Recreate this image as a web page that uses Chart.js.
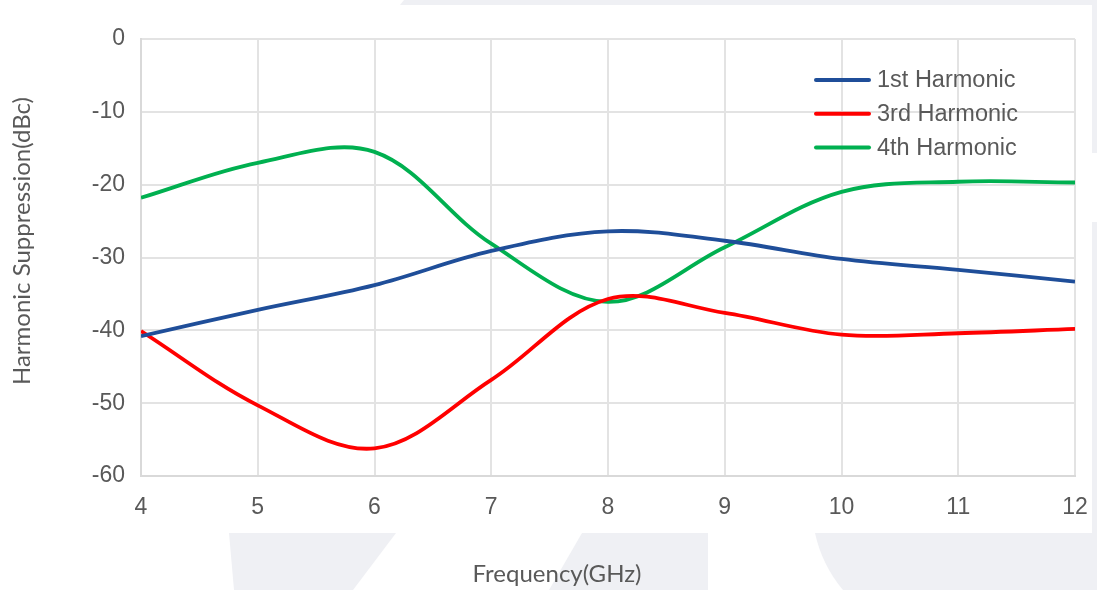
<!DOCTYPE html>
<html>
<head>
<meta charset="utf-8">
<script src="https://cdn.jsdelivr.net/npm/chart.js@4.4.1/dist/chart.umd.min.js"></script>
<style>
  html, body { margin: 0; padding: 0; background: #ffffff; }
  #wrap { width: 1097px; height: 590px; }
</style>
</head>
<body>
<div id="wrap"><canvas id="c" width="1097" height="590"></canvas></div>
<script>
// Frequency points (GHz)
const frequencies = [4, 5, 6, 7, 8, 9, 10, 11, 12];

// Harmonic suppression (dBc) per frequency
const firstHarmonic  = [-40.8, -37.2, -33.8, -29.1, -26.4, -27.7, -30.2, -31.7, -33.3];
const thirdHarmonic  = [-40.1, -50.3, -56.2, -46.8, -35.7, -37.6, -40.6, -40.4, -39.8];
const fourthHarmonic = [-21.8, -17.0, -15.5, -28.1, -36.1, -28.6, -21.0, -19.6, -19.7];

const seriesNames = ['1st Harmonic', '3rd Harmonic', '4th Harmonic'];
const seriesColors = ['#1f4e99', '#ff0000', '#00b050'];

const xTitle = 'Frequency(GHz)';
const yTitle = 'Harmonic Suppression(dBc)';

const textColor = '#595959';
const gridColor = '#e3e3e3';

function toPoints(values) {
  return frequencies.map((f, i) => ({ x: f, y: values[i] }));
}

// Soft grey backdrop shapes behind the chart card
const backdrop = {
  id: 'backdrop',
  beforeDraw(chart) {
    const ctx = chart.ctx;
    ctx.save();
    ctx.fillStyle = '#ffffff';
    ctx.fillRect(0, 0, chart.width, chart.height);
    ctx.fillStyle = '#eff0f4';
    // top strip
    ctx.beginPath();
    ctx.moveTo(404, 0); ctx.lineTo(1097, 0); ctx.lineTo(1097, 5); ctx.lineTo(400, 5);
    ctx.closePath(); ctx.fill();
    // right strip
    ctx.fillRect(1092, 0, 5, 153);
    ctx.fillRect(1092, 222, 5, 368);
    // lower shapes
    ctx.beginPath();
    ctx.moveTo(229, 533); ctx.lineTo(396, 533); ctx.lineTo(353, 590); ctx.lineTo(234, 590);
    ctx.closePath(); ctx.fill();
    ctx.beginPath();
    ctx.moveTo(582, 533); ctx.lineTo(708, 533); ctx.lineTo(708, 590); ctx.lineTo(549, 590);
    ctx.closePath(); ctx.fill();
    ctx.beginPath();
    ctx.moveTo(815, 533); ctx.lineTo(1097, 533); ctx.lineTo(1097, 590); ctx.lineTo(843, 590);
    ctx.quadraticCurveTo(822, 565, 815, 533);
    ctx.closePath(); ctx.fill();
    ctx.restore();
  }
};

// Legend inside the plot and the two axis titles
const decorations = {
  id: 'decorations',
  afterDraw(chart) {
    const ctx = chart.ctx;
    ctx.save();
    // legend
    ctx.font = '23.5px "Liberation Sans", Arial, sans-serif';
    ctx.textBaseline = 'middle';
    ctx.textAlign = 'left';
    chart.data.datasets.forEach((ds, i) => {
      const y = 80 + i * 33.7;
      ctx.strokeStyle = ds.borderColor;
      ctx.lineWidth = 4;
      ctx.lineCap = 'round';
      ctx.beginPath();
      ctx.moveTo(816, y); ctx.lineTo(869, y);
      ctx.stroke();
      ctx.fillStyle = textColor;
      ctx.fillText(ds.label, 877, y + 1);
    });
    // axis titles
    ctx.fillStyle = textColor;
    ctx.font = '24px Lato, "Open Sans", sans-serif';
    ctx.textAlign = 'center';
    ctx.textBaseline = 'middle';
    ctx.fillText(xTitle, 557, 574);
    ctx.translate(22, 241);
    ctx.rotate(-Math.PI / 2);
    ctx.fillText(yTitle, 0, 0);
    ctx.restore();
  }
};

new Chart(document.getElementById('c'), {
  type: 'line',
  data: {
    datasets: [
      { label: seriesNames[0], data: toPoints(firstHarmonic),  borderColor: seriesColors[0] },
      { label: seriesNames[1], data: toPoints(thirdHarmonic),  borderColor: seriesColors[1] },
      { label: seriesNames[2], data: toPoints(fourthHarmonic), borderColor: seriesColors[2] }
    ]
  },
  options: {
    responsive: false,
    animation: false,
    devicePixelRatio: 1,
    layout: { padding: { top: 39, right: 22, left: 0, bottom: 0 } },
    elements: {
      line: { borderWidth: 3.8, tension: 0.35, fill: false, cubicInterpolationMode: 'default' },
      point: { radius: 0, hoverRadius: 0 }
    },
    plugins: { legend: { display: false }, tooltip: { enabled: false } },
    scales: {
      x: {
        type: 'linear',
        min: 4, max: 12,
        afterFit(scale) {
          scale.height = 114;
          scale.paddingLeft = 0;
          scale.paddingRight = 0;
        },
        ticks: {
          stepSize: 1,
          color: textColor,
          padding: 18,
          font: { family: '"Liberation Sans", Arial, sans-serif', size: 23 }
        },
        grid: { color: gridColor, lineWidth: 2, drawTicks: false },
        border: { color: '#d9d9d9', width: 2 }
      },
      y: {
        min: -60, max: 0,
        afterFit(scale) {
          scale.width = 141;
          scale.paddingTop = 0;
          scale.paddingBottom = 0;
        },
        ticks: {
          stepSize: 10,
          color: textColor,
          padding: 16,
          font: { family: '"Liberation Sans", Arial, sans-serif', size: 23 }
        },
        grid: { color: gridColor, lineWidth: 2, drawTicks: false },
        border: { color: '#d9d9d9', width: 2 }
      }
    }
  },
  plugins: [backdrop, decorations]
});
</script>
</body>
</html>
